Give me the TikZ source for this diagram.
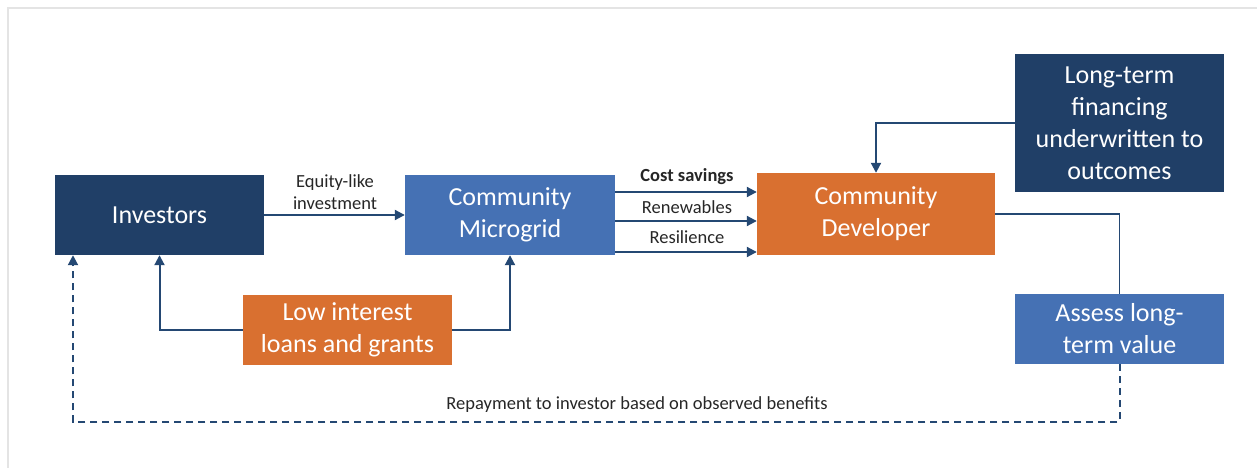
\documentclass[tikz,border=0pt]{standalone}
\usepackage{fontspec}
\setmainfont{Carlito}
\usetikzlibrary{arrows.meta}
\definecolor{navy}{RGB}{32,63,103}
\definecolor{midblue}{RGB}{69,113,180}
\definecolor{orng}{RGB}{217,112,48}
\definecolor{lnblue}{RGB}{36,72,115}
\definecolor{frame}{RGB}{228,228,228}
\begin{document}
\begin{tikzpicture}[x=1pt, y=-1pt,
  box/.style={fill=#1, text=white, inner sep=0pt, align=center,
    font=\fontsize{26}{32}\selectfont},
  lbl/.style={text=black!85, align=center, font=\fontsize{18.5}{22}\selectfont},
  arr/.style={draw=lnblue, line width=2pt, -{Triangle[length=10pt,width=10pt]}},
  dsh/.style={arr, dash pattern=on 7pt off 5pt}]
\useasboundingbox (0,0) rectangle (1257,468);
\draw[frame, line width=2pt] (8,468) -- (8,8) -- (1257,8);

\node[box=navy, minimum width=209pt, minimum height=80pt] (I) at (159.5,215) {Investors};
\node[box=midblue, minimum width=210pt, minimum height=80pt] (M) at (510,215) {Community\\Microgrid};
\node[box=orng, minimum width=238pt, minimum height=82pt] (D) at (876,214) {Community\\Developer};
\node[box=navy, minimum width=209pt, minimum height=138pt] (G) at (1119.5,123) {Long-term\\financing\\underwritten to\\outcomes};
\node[box=midblue, minimum width=209pt, minimum height=70pt] (V) at (1119.5,329) {Assess long-\\term value};
\node[box=orng, minimum width=209pt, minimum height=70pt] (L) at (347.5,330) {Low interest\\loans and grants};

\node[lbl] (E) at (335,192) {Equity-like\\investment};
\node[lbl, font=\fontsize{18.5}{22}\selectfont\bfseries] (S) at (687,177) {Cost savings};
\node[lbl] (N) at (687,207) {Renewables};
\node[lbl] (R) at (687,237) {Resilience};
\node[lbl] (P) at (637,405) {Repayment to investor based on observed benefits};
\coordinate (c) at (73,422);

\draw[arr] (I) to (M);
\draw[arr] ([yshift=23pt]M.east) to ([yshift=23pt]M.east -| D.west);
\draw[arr] ([yshift=-6pt]M.east) to ([yshift=-6pt]M.east -| D.west);
\draw[arr] ([yshift=-37pt]M.east) to ([yshift=-37pt]M.east -| D.west);
\draw[arr] (G.west) -| (D.north);
\draw[draw=lnblue, line width=1.2pt] (D.east) -| (V.north);
\draw[dsh] (V.south) |- (c) -- (c |- I.south);
\draw[arr] (L.west) -| (I.south);
\draw[arr] (L.east) -| (M.south);
\end{tikzpicture}
\end{document}
